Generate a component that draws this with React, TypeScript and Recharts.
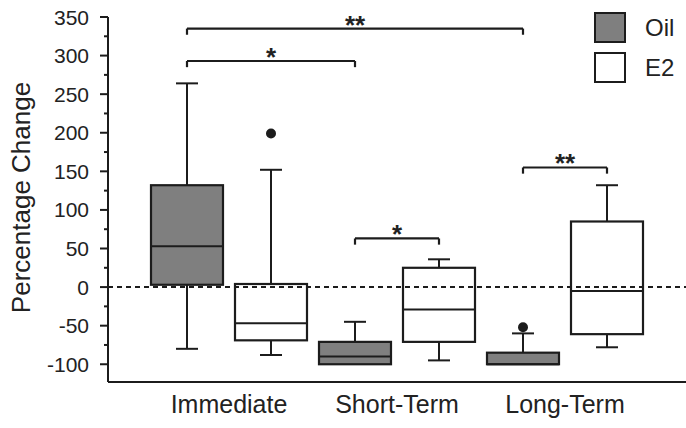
import { ComposedChart, Bar, XAxis, YAxis, ReferenceLine, Legend } from 'recharts';

// Groups on the x axis
const categories = ['Immediate', 'Short-Term', 'Long-Term'];

// Oil: whisker low, Q1, median, Q3, whisker high, outliers
const oilMin = [-80, -100, -100];
const oilQ1 = [3, -100, -100];
const oilMedian = [53, -90, -100];
const oilQ3 = [132, -71, -85];
const oilMax = [264, -45, -60];
const oilOutliers = [[], [], [-52]];

// E2
const e2Min = [-88, -95, -78];
const e2Q1 = [-69, -71, -61];
const e2Median = [-47, -29, -5];
const e2Q3 = [4, 25, 85];
const e2Max = [152, 36, 132];
const e2Outliers = [[199], [], []];

const yTicks = [-100, -75, -50, -25, 0, 25, 50, 75, 100, 125, 150, 175, 200, 225, 250, 275, 300, 325, 350];

// significance brackets; from / to are box indexes (group * 2 + series)
const brackets = [
  { from: 0, to: 4, y: 335, label: '**' },
  { from: 0, to: 2, y: 293, label: '*' },
  { from: 2, to: 3, y: 63, label: '*' },
  { from: 4, to: 5, y: 155, label: '**' },
];

const legendItems = [
  { name: 'Oil', fill: '#7f7f7f' },
  { name: 'E2', fill: '#ffffff' },
];

const FONT = '"Liberation Sans", Arial, sans-serif';
const INK = '#1c1c1c';
const BRACKET_DROP = 8;

const data = categories.map((name, i) => ({
  name,
  oil: { min: oilMin[i], q1: oilQ1[i], median: oilMedian[i], q3: oilQ3[i], max: oilMax[i], outliers: oilOutliers[i] },
  e2: { min: e2Min[i], q1: e2Q1[i], median: e2Median[i], q3: e2Q3[i], max: e2Max[i], outliers: e2Outliers[i] },
}));

const makeBox = (key: 'oil' | 'e2', fill: string) => (props: any) => {
  const { x, y, width, height, payload } = props;
  const s = payload[key];
  const top = Math.min(y, y + height);
  const h = Math.abs(height);
  const k = h / (s.q3 - s.q1);
  const py = (v: number) => top + (s.q3 - v) * k;
  const cx = x + width / 2;
  const cap = 11;
  return (
    <g>
      {s.max > s.q3 && (
        <g stroke={INK} strokeWidth={2}>
          <line x1={cx} x2={cx} y1={py(s.max)} y2={top} />
          <line x1={cx - cap} x2={cx + cap} y1={py(s.max)} y2={py(s.max)} />
        </g>
      )}
      {s.min < s.q1 && (
        <g stroke={INK} strokeWidth={2}>
          <line x1={cx} x2={cx} y1={top + h} y2={py(s.min)} />
          <line x1={cx - cap} x2={cx + cap} y1={py(s.min)} y2={py(s.min)} />
        </g>
      )}
      <rect x={x} y={top} width={width} height={h} fill={fill} stroke={INK} strokeWidth={2.2} />
      <line x1={x} x2={x + width} y1={py(s.median)} y2={py(s.median)} stroke={INK} strokeWidth={2} />
      {s.outliers.map((v: number, i: number) => (
        <circle key={i} cx={cx} cy={py(v)} r={5} fill={INK} />
      ))}
    </g>
  );
};

const YTick = ({ x, y, payload }: any) => {
  const v = payload.value;
  const major = v % 50 === 0;
  return (
    <g>
      <line x1={x - (major ? 8 : 4)} x2={x} y1={y} y2={y} stroke={INK} strokeWidth={2} />
      {major && (
        <text x={x - 19} y={y} dy="0.36em" textAnchor="end" fontSize={21} fontFamily={FONT} fill="#222">
          {v}
        </text>
      )}
    </g>
  );
};

const StarLabel = (text: string) => (props: any) => {
  const vb = props.viewBox;
  return (
    <text x={vb.x + vb.width / 2} y={vb.y + 5} textAnchor="middle" fontSize={26} fontWeight="bold" fontFamily={FONT} fill="#222">
      {text}
    </text>
  );
};

const LegendBox = () => (
  <div style={{ fontFamily: FONT, fontSize: 24, color: '#222' }}>
    {legendItems.map((it) => (
      <div key={it.name} style={{ display: 'flex', alignItems: 'center', height: 31, marginBottom: 9 }}>
        <div style={{ width: 28, height: 27, border: `2px solid ${INK}`, background: it.fill, marginRight: 19 }} />
        <span>{it.name}</span>
      </div>
    ))}
  </div>
);

export default function App() {
  return (
    <div style={{ position: 'absolute', left: 0, top: 0, background: '#fff' }}>
      <ComposedChart width={686} height={428} data={data} margin={{ top: 17, right: 0, bottom: 0, left: 0 }} barGap={12}>
        <XAxis
          xAxisId="cat"
          dataKey="name"
          padding={{ left: 37, right: 37 }}
          tickLine={false}
          tickSize={0}
          tickMargin={13}
          axisLine={{ stroke: INK, strokeWidth: 2 }}
          tick={{ fontSize: 25, fill: '#222', fontFamily: FONT }}
          height={46}
          interval={0}
        />
        <XAxis xAxisId="pos" type="number" dataKey="pos" domain={[0, 6]} allowDataOverflow hide padding={{ left: 37, right: 37 }} />
        <YAxis
          domain={[-123, 350]}
          allowDataOverflow
          ticks={yTicks}
          interval={0}
          width={108}
          tickLine={false}
          tickSize={0}
          tickMargin={0}
          axisLine={{ stroke: INK, strokeWidth: 2 }}
          tick={<YTick />}
          label={(props: any) => {
            const vb = props.viewBox;
            const cy = vb.y + vb.height / 2 - 2;
            return (
              <text x={22} y={cy} dy="0.3em" textAnchor="middle" transform={`rotate(-90, 22, ${cy})`} fontSize={26} fontFamily={FONT} fill="#222">
                Percentage Change
              </text>
            );
          }}
        />
        <ReferenceLine xAxisId="cat" y={0} stroke={INK} strokeWidth={2} strokeDasharray="5 4" />
        <Bar xAxisId="cat" dataKey={(d: any) => [d.oil.q1, d.oil.q3]} name="Oil" barSize={72} shape={makeBox('oil', '#7f7f7f')} isAnimationActive={false} />
        <Bar xAxisId="cat" dataKey={(d: any) => [d.e2.q1, d.e2.q3]} name="E2" barSize={72} shape={makeBox('e2', '#ffffff')} isAnimationActive={false} />
        {brackets.map((b, i) => [
          <ReferenceLine
            key={`h${i}`}
            xAxisId="pos"
            segment={[{ x: b.from + 0.5, y: b.y }, { x: b.to + 0.5, y: b.y }]}
            stroke={INK}
            strokeWidth={2.2}
            label={StarLabel(b.label)}
          />,
          <ReferenceLine
            key={`l${i}`}
            xAxisId="pos"
            segment={[{ x: b.from + 0.5, y: b.y }, { x: b.from + 0.5, y: b.y - BRACKET_DROP }]}
            stroke={INK}
            strokeWidth={2.2}
          />,
          <ReferenceLine
            key={`r${i}`}
            xAxisId="pos"
            segment={[{ x: b.to + 0.5, y: b.y }, { x: b.to + 0.5, y: b.y - BRACKET_DROP }]}
            stroke={INK}
            strokeWidth={2.2}
          />,
        ])}
        <Legend
          layout="vertical"
          align="center"
          verticalAlign="middle"
          content={<LegendBox />}
          wrapperStyle={{ position: 'absolute', left: 594, top: 12, width: 'auto', margin: 0 }}
        />
      </ComposedChart>
    </div>
  );
}
